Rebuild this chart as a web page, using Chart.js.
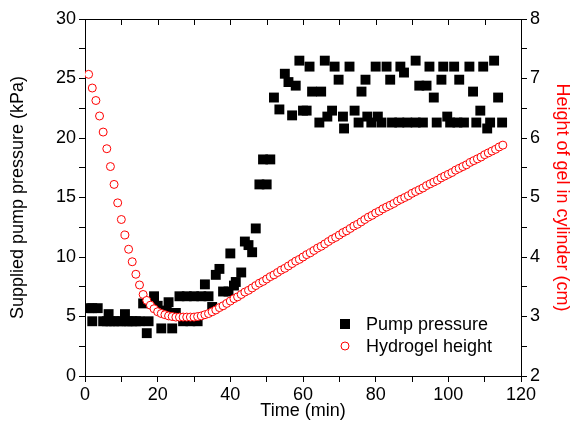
<!DOCTYPE html>
<html>
<head>
<meta charset="utf-8">
<script src="https://cdn.jsdelivr.net/npm/chart.js@4.4.1/dist/chart.umd.min.js"></script>
<style>
  body { margin: 0; background: #fff; }
  #wrap { width: 573px; height: 428px; }
</style>
</head>
<body>
<div id="wrap"><canvas id="gelChart" width="573" height="428"></canvas></div>
<script>
// pump pressure readings (min, kPa)
const pumpTime = [
  1, 2, 2, 3.5, 5, 6, 6.5, 7, 8, 9, 10, 11, 11.5, 12, 13, 14, 15, 16, 17, 17.5,
  19, 20, 21, 22.5, 23, 24, 25, 26, 27, 28, 29, 30, 31, 32, 33, 34, 35,
  36, 37, 38, 39.5, 40, 41, 41.5, 43, 44, 45, 46, 47, 48, 49, 50, 51,
  52, 53.5, 55, 56, 57, 58, 59, 60, 61, 61.8, 62.5, 64.5, 65, 66, 66.7, 68, 68.7,
  69.8, 71, 71.3, 72.8, 74.2, 75.3, 76.1, 77.2, 77.7, 78.8, 80, 80.6, 81.6, 83, 84,
  84.5, 86.5, 86.8, 87.8, 88.7, 91, 91, 92, 93, 94, 94.8, 96, 96.8, 98.1, 98.6,
  99.7, 100.5, 101.6, 102.5, 103, 104.3, 105.8, 106.8, 107.7, 108.8, 109.6, 110.7,
  111.5, 112.6, 113.7, 114.8
];
const pumpPressure = [
  5.7, 4.6, 5.7, 5.7, 4.6, 4.6, 5.2, 4.6, 4.6, 4.6, 4.6, 5.2, 4.6, 4.6, 4.6, 4.6, 4.6, 6.1, 3.6, 4.6,
  6.7, 5.9, 4.0, 5.5, 6.2, 4.0, 5.3, 6.7, 4.6, 6.7, 4.6, 6.7, 4.6, 6.7, 7.7, 6.7, 5.8,
  8.5, 9.0, 7.1, 7.1, 10.3, 7.6, 7.9, 8.7, 11.3, 11.0, 10.4, 12.4, 16.1, 18.2, 16.1, 18.2,
  23.4, 22.4, 25.4, 24.7, 21.9, 24.4, 26.5, 22.3, 22.3, 26.0, 23.9, 21.3, 23.9, 26.5, 21.8, 22.3, 26.0,
  24.9, 21.8, 20.8, 26.0, 22.3, 21.3, 23.9, 24.9, 21.8, 21.3, 26.0, 21.8, 21.3, 26.0, 24.9,
  21.3, 21.3, 26.0, 25.5, 21.3, 26.5, 21.3, 24.4, 21.3, 24.4, 26.0, 23.4, 21.3, 24.9, 26.0,
  21.8, 21.3, 26.0, 21.3, 24.9, 21.3, 26.0, 23.9, 21.3, 22.3, 26.0, 20.8,
  21.3, 26.5, 23.4, 21.3
];

// hydrogel height in the cylinder (min, cm)
const gelTime = [
  1, 2, 3, 4, 5, 6, 7, 8, 9, 10, 11, 12, 13, 14, 15, 16, 17, 18, 19, 20,
  21, 22, 23, 24, 25, 26, 27, 28, 29, 30, 31, 32, 33, 34, 35, 36, 37, 38, 39, 40,
  41, 42, 43, 44, 45, 46, 47, 48, 49, 50, 51, 52, 53, 54, 55, 56, 57, 58, 59, 60,
  61, 62, 63, 64, 65, 66, 67, 68, 69, 70, 71, 72, 73, 74, 75, 76, 77, 78, 79, 80,
  81, 82, 83, 84, 85, 86, 87, 88, 89, 90, 91, 92, 93, 94, 95, 96, 97, 98, 99, 100,
  101, 102, 103, 104, 105, 106, 107, 108, 109, 110, 111, 112, 113, 114, 115
];
const gelHeight = [
  7.07, 6.84, 6.63, 6.37, 6.10, 5.82, 5.52, 5.22, 4.91, 4.63, 4.37, 4.13, 3.92, 3.71, 3.53, 3.37, 3.27, 3.19, 3.13, 3.08,
  3.05, 3.03, 3.01, 3.00, 2.99, 2.99, 2.99, 2.99, 2.99, 2.99, 3.00, 3.01, 3.03, 3.05, 3.08, 3.11, 3.15, 3.18, 3.22, 3.26,
  3.30, 3.33, 3.37, 3.41, 3.44, 3.48, 3.52, 3.56, 3.59, 3.63, 3.67, 3.70, 3.74, 3.78, 3.81, 3.85, 3.89, 3.93, 3.96, 4.00,
  4.04, 4.07, 4.11, 4.15, 4.18, 4.22, 4.26, 4.30, 4.33, 4.37, 4.41, 4.44, 4.48, 4.52, 4.55, 4.59, 4.63, 4.67, 4.70, 4.74,
  4.77, 4.81, 4.84, 4.87, 4.90, 4.94, 4.97, 5.00, 5.03, 5.07, 5.10, 5.13, 5.16, 5.20, 5.23, 5.26, 5.29, 5.33, 5.36, 5.39,
  5.42, 5.46, 5.49, 5.52, 5.55, 5.59, 5.62, 5.65, 5.68, 5.72, 5.75, 5.78, 5.81, 5.85, 5.88
];

const FONT = "'Liberation Sans', Arial, sans-serif";

// top frame line with inward ticks (mirrors the bottom axis)
const frameBox = {
  id: 'frameBox',
  afterDraw(chart) {
    const ctx = chart.ctx;
    const a = chart.chartArea;
    const xs = chart.scales.x;
    ctx.save();
    ctx.strokeStyle = '#000';
    ctx.lineWidth = 1;
    ctx.beginPath();
    ctx.moveTo(a.left, a.top + 0.5);
    ctx.lineTo(a.right, a.top + 0.5);
    xs.ticks.forEach(t => {
      const px = Math.round(xs.getPixelForValue(t.value)) + 0.5;
      ctx.moveTo(px, a.top);
      ctx.lineTo(px, a.top + 6);
    });
    ctx.stroke();
    ctx.restore();
  }
};

// legend sitting inside the plot, lower right
const insideLegend = {
  id: 'insideLegend',
  afterDraw(chart) {
    const ctx = chart.ctx;
    ctx.save();
    ctx.font = '18px ' + FONT;
    ctx.textBaseline = 'middle';
    ctx.fillStyle = '#000';
    ctx.fillRect(340, 319, 10, 10);
    ctx.fillText('Pump pressure', 366, 325);
    ctx.beginPath();
    ctx.arc(345, 346, 4, 0, Math.PI * 2);
    ctx.fillStyle = '#fff';
    ctx.fill();
    ctx.strokeStyle = 'red';
    ctx.lineWidth = 1;
    ctx.stroke();
    ctx.fillStyle = '#000';
    ctx.fillText('Hydrogel height', 366, 347);
    ctx.restore();
  }
};

const pumpPoints = pumpTime.map((t, i) => ({ x: t, y: pumpPressure[i] }));
const gelPoints = gelTime.map((t, i) => ({ x: t, y: gelHeight[i] }));

const axisFont = { family: FONT, size: 18 };

new Chart(document.getElementById('gelChart'), {
  type: 'scatter',
  data: {
    datasets: [
      {
        label: 'Pump pressure',
        data: pumpPoints,
        yAxisID: 'y',
        pointStyle: 'rect',
        pointRadius: 7,
        backgroundColor: '#000',
        borderWidth: 0,
        clip: 0,
        order: 2
      },
      {
        label: 'Hydrogel height',
        data: gelPoints,
        yAxisID: 'y1',
        pointStyle: 'circle',
        pointRadius: 4,
        backgroundColor: '#fff',
        borderColor: 'red',
        borderWidth: 1,
        clip: 0,
        order: 1
      }
    ]
  },
  options: {
    responsive: false,
    animation: false,
    devicePixelRatio: 1,
    layout: { padding: { top: 19, left: 0, right: 0, bottom: 0 } },
    plugins: { legend: { display: false }, tooltip: { enabled: false } },
    scales: {
      x: {
        type: 'linear',
        position: 'bottom',
        min: 0,
        max: 120,
        afterFit: s => { s.height = 52; },
        ticks: {
          stepSize: 10,
          autoSkip: false,
          maxRotation: 0,
          padding: 2,
          color: '#000',
          font: axisFont,
          callback: v => (v % 20 === 0 ? v : '')
        },
        grid: { drawOnChartArea: false, tickLength: 6, color: '#000' },
        border: { color: '#000', width: 1 },
        title: { display: true, text: 'Time (min)', color: '#000', font: axisFont, padding: { top: 0, bottom: 6 } }
      },
      y: {
        position: 'left',
        min: 0,
        max: 30,
        afterFit: s => { s.width = 85; },
        ticks: {
          stepSize: 2.5,
          autoSkip: false,
          padding: 3,
          color: '#000',
          font: axisFont,
          callback: v => (v % 5 === 0 ? v : '')
        },
        grid: { drawOnChartArea: false, tickLength: 6, color: '#000' },
        border: { color: '#000', width: 1 },
        title: { display: true, text: 'Supplied pump pressure (kPa)', color: '#000', font: axisFont, padding: { top: 7, bottom: 0 } }
      },
      y1: {
        position: 'right',
        min: 2,
        max: 8,
        afterFit: s => { s.width = 52; },
        ticks: {
          stepSize: 0.5,
          autoSkip: false,
          padding: 3,
          color: '#000',
          font: axisFont,
          callback: v => (v % 1 === 0 ? v : '')
        },
        grid: { drawOnChartArea: false, tickLength: 6, color: '#000' },
        border: { color: '#000', width: 1 },
        title: { display: true, text: 'Height of gel in cylinder (cm)', color: 'red', font: axisFont, padding: { top: 0, bottom: 0 } }
      }
    }
  },
  plugins: [frameBox, insideLegend]
});
</script>
</body>
</html>
